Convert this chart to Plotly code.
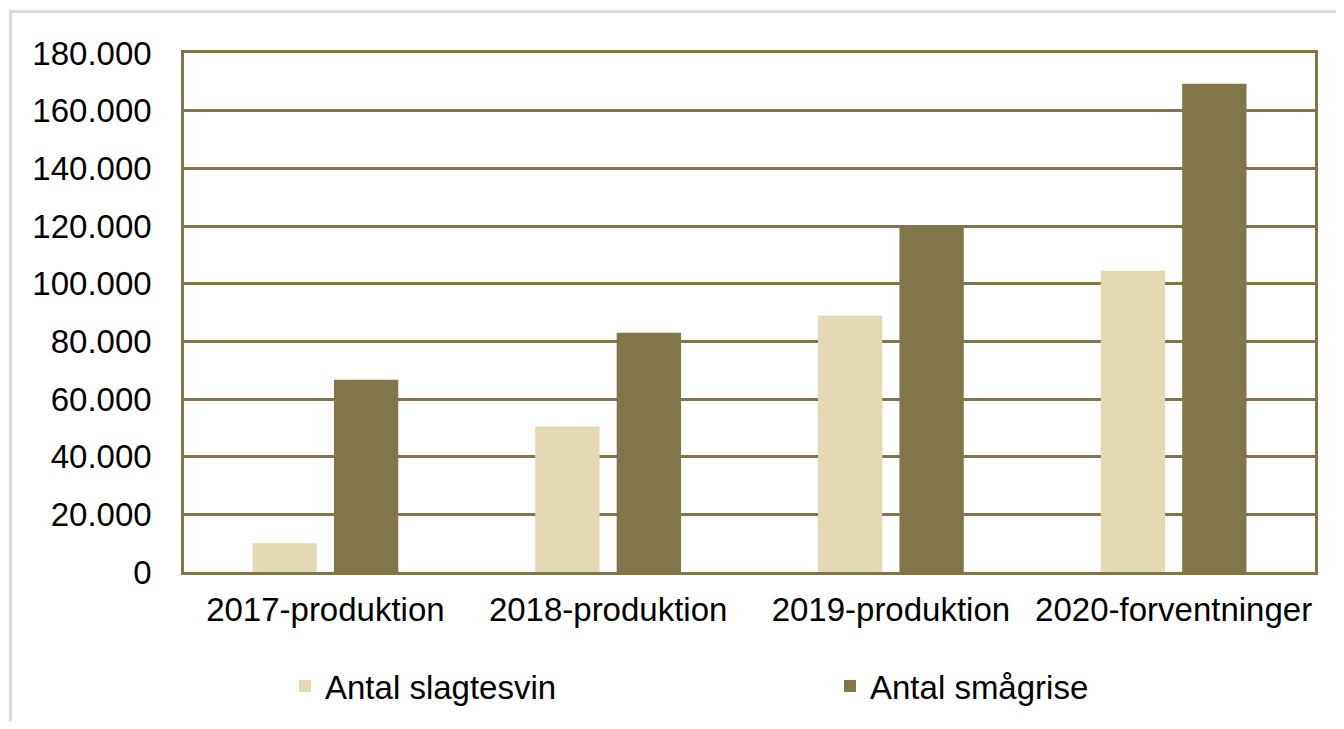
import plotly.graph_objects as go

categories = ["2017-produktion", "2018-produktion", "2019-produktion", "2020-forventninger"]
slagtesvin = [10000, 50500, 89000, 104500]
smagrise = [66700, 83000, 120300, 169300]
series_names = ["Antal slagtesvin", "Antal smågrise"]

LIGHT = "#E3DAB3"
DARK = "#80764A"
FONT = "Liberation Sans, Arial, sans-serif"

# page has an 8px body margin; figure sized to fit exactly
OFF = 8
W, H = 1344 - 2 * OFF, 729 - 2 * OFF
L, T = 184 - OFF, 53 - OFF
R = W - (1315 - OFF)
B = H - (572 - OFF)
pw, ph = W - L - R, H - T - B

fig = go.Figure()
fig.add_trace(go.Bar(x=categories, y=slagtesvin, name=series_names[0],
                     marker=dict(color=LIGHT, line=dict(width=0))))
fig.add_trace(go.Bar(x=categories, y=smagrise, name=series_names[1],
                     marker=dict(color=DARK, line=dict(width=0))))

def px_x(p):
    # p in page pixels
    return (p - OFF - L) / pw

def px_y(p):
    return (H - B - (p - OFF)) / ph

shapes = [
    dict(type="line", xref="paper", yref="paper",
         x0=px_x(10.5), x1=px_x(1344), y0=px_y(11.5), y1=px_y(11.5),
         line=dict(color="#D9D9D9", width=3)),
    dict(type="line", xref="paper", yref="paper",
         x0=px_x(10.5), x1=px_x(10.5), y0=px_y(10), y1=px_y(729),
         line=dict(color="#D9D9D9", width=3)),
]

fig.update_layout(
    width=W, height=H,
    margin=dict(l=L, r=R, t=T, b=B, autoexpand=False),
    paper_bgcolor="white", plot_bgcolor="white",
    barmode="group", bargap=0.424, bargroupgap=0.21,
    separators=",.",
    font=dict(family=FONT, size=33, color="#000000"),
    showlegend=True,
    legend=dict(orientation="h", x=px_x(285), xanchor="left",
                y=px_y(686), yanchor="middle",
                entrywidth=500, entrywidthmode="pixels",
                font=dict(family=FONT, size=33, color="#000000"),
                bgcolor="rgba(0,0,0,0)"),
    shapes=shapes,
)
fig.update_xaxes(showline=True, linecolor=DARK, linewidth=2.5, mirror=True,
                 showgrid=False, ticks="", ticklabelstandoff=7,
                 tickfont=dict(family=FONT, size=33, color="#000000"))
fig.update_yaxes(range=[0, 180000], dtick=20000, tickformat=",d",
                 showline=True, linecolor=DARK, linewidth=2.5, mirror=True,
                 showgrid=True, gridcolor=DARK, gridwidth=2.5,
                 zeroline=False, ticks="", ticklabelstandoff=23,
                 tickfont=dict(family=FONT, size=33, color="#000000"))

fig.write_html("out.html")
